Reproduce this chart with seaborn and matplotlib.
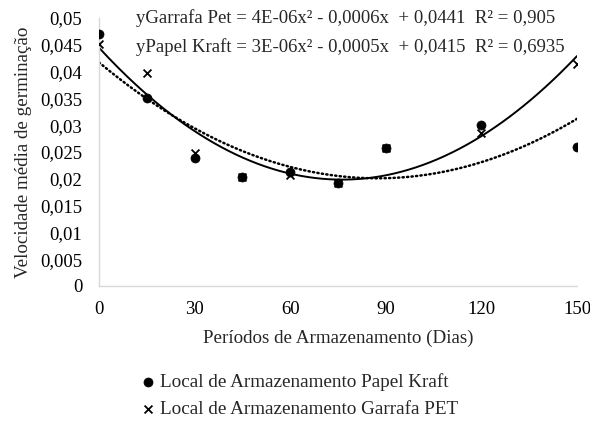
import numpy as np
import pandas as pd
import matplotlib
matplotlib.use("Agg")
import matplotlib.pyplot as plt
import seaborn as sns

dias = [0, 15, 30, 45, 60, 75, 90, 120, 150]
papel_kraft = [0.0470, 0.0351, 0.0239, 0.0203, 0.0213, 0.0192, 0.0257, 0.0300, 0.0259]
garrafa_pet = [0.0451, 0.0397, 0.0248, 0.0203, 0.0207, 0.0192, 0.0257, 0.0285, 0.0414]
series_names = ["Local de Armazenamento Papel Kraft", "Local de Armazenamento Garrafa PET"]
eq_pet = "yGarrafa Pet = 4E-06x² - 0,0006x  + 0,0441  R² = 0,905"
eq_kraft = "yPapel Kraft = 3E-06x² - 0,0005x  + 0,0415  R² = 0,6935"
x_ticks = [0, 30, 60, 90, 120, 150]
y_ticks = [0, 0.005, 0.01, 0.015, 0.02, 0.025, 0.03, 0.035, 0.04, 0.045, 0.05]
y_tick_labels = ["0", "0,005", "0,01", "0,015", "0,02", "0,025", "0,03", "0,035", "0,04", "0,045", "0,05"]
x_label = "Períodos de Armazenamento (Dias)"
y_label = "Velocidade média de germinação"

sns.set_style("white")
plt.rcParams["font.family"] = ["Liberation Serif", "DejaVu Serif"]

fig = plt.figure(figsize=(5.9, 4.25), dpi=100)
ax = fig.add_axes([99/590, 1-286/425, (577-99)/590, (286-18)/425])

# trend lines from quadratic fits
xs = np.linspace(0, 150, 200)
fit_pet = np.polyval(np.polyfit(dias, garrafa_pet, 2), xs)
fit_kraft = np.polyval(np.polyfit(dias, papel_kraft, 2), xs)
trend = pd.DataFrame({"x": xs, "pet": fit_pet, "kraft": fit_kraft})
sns.lineplot(data=trend, x="x", y="pet", ax=ax, color="black", lw=1.4, legend=False)
sns.lineplot(data=trend, x="x", y="kraft", ax=ax, color="black", lw=1.8,
             linestyle=(0, (0.5, 1.3)), dash_capstyle="round", legend=False)

df = pd.DataFrame({"dias": dias, "kraft": papel_kraft, "pet": garrafa_pet})
sns.scatterplot(data=df, x="dias", y="kraft", ax=ax, marker="o", s=42, color="black",
                edgecolor="black", label=series_names[0], zorder=3)
sns.scatterplot(data=df, x="dias", y="pet", ax=ax, marker="x", s=32, color="black",
                linewidth=1.3, label=series_names[1], zorder=4)

ax.set_xlim(0, 150)
ax.set_ylim(0, 0.05)
ax.set_xticks(x_ticks)
ax.set_xticklabels([str(t) for t in x_ticks])
ax.set_yticks(y_ticks)
ax.set_yticklabels(y_tick_labels)
ax.tick_params(axis="both", length=0, labelsize=13.5, colors="black")
ax.tick_params(axis="y", pad=12)
ax.tick_params(axis="x", pad=11)
ax.set_xlabel(x_label, fontsize=13.7, labelpad=8)
ax.set_ylabel(y_label, fontsize=13.7, labelpad=6)
for s in ["top", "right"]:
    ax.spines[s].set_visible(False)
for s in ["left", "bottom"]:
    ax.spines[s].set_color("#d9d9d9")
    ax.spines[s].set_linewidth(1.0)

ax.text(11.5, 0.05, eq_pet, fontsize=13.5, va="center", ha="left")
ax.text(11.5, 0.0446, eq_kraft, fontsize=13.5, va="center", ha="left")

handles, labels = ax.get_legend_handles_labels()
ax.get_legend().remove()
fig.legend(handles, labels, loc="upper left", bbox_to_anchor=(131/590, 1-365/425),
           frameon=False, fontsize=13.8, handletextpad=0.1, handlelength=1.0,
           labelspacing=0.55, borderaxespad=0)

fig.savefig("out.png", dpi=100)
